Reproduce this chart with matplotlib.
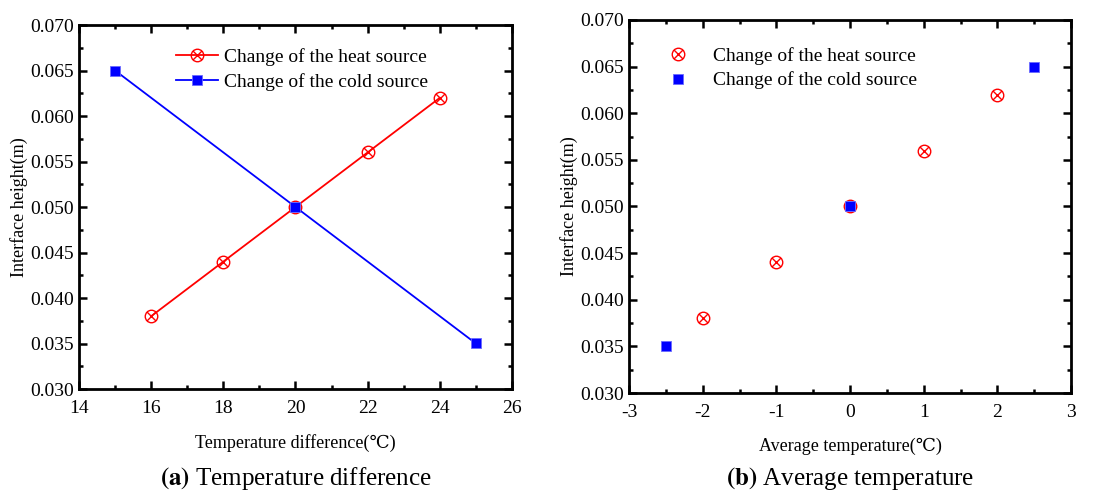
import numpy as np
import matplotlib.pyplot as plt
from matplotlib.path import Path
from matplotlib.ticker import MultipleLocator, FormatStrFormatter

plt.rcParams['font.family'] = ['Liberation Serif', 'DejaVu Serif']
plt.rcParams['mathtext.fontset'] = 'stix'
plt.rcParams['axes.unicode_minus'] = False

# interface heights
heat_y = [0.038, 0.044, 0.050, 0.056, 0.062]

# (a) temperature difference
heat_dt = [16, 18, 20, 22, 24]
cold_dt = [15, 20, 25]
cold_dt_y = [0.065, 0.050, 0.035]

# (b) average temperature
heat_avg = [-2, -1, 0, 1, 2]
cold_avg = [-2.5, 0, 2.5]
cold_avg_y = [0.035, 0.050, 0.065]

# circle with a cross inside
s = np.sqrt(0.5)
circ_x = Path.make_compound_path(
    Path.unit_circle(),
    Path([(-s, -s), (s, s)]),
    Path([(-s, s), (s, -s)]),
)

fig = plt.figure(figsize=(10.99, 4.90), dpi=100)
ax1 = fig.add_axes([79 / 1099, 1 - 389 / 490, 433 / 1099, 364 / 490])
ax2 = fig.add_axes([629 / 1099, 1 - 393 / 490, 442 / 1099, 373 / 490])

heat_style = dict(color='red', marker=circ_x, markersize=9, markerfacecolor='none',
                  markeredgecolor='red', markeredgewidth=1.0)
cold_style = dict(color='blue', marker='s', markersize=7.5, markerfacecolor='blue',
                  markeredgecolor='#6a6aff', markeredgewidth=0.6)

ax1.plot(heat_dt, heat_y, lw=1.3, label='Change of the heat source', **heat_style)
ax1.plot(cold_dt, cold_dt_y, lw=1.3, label='Change of the cold source', **cold_style)

ax2.plot(heat_avg, heat_y, ls='none', label='Change of the heat source', **heat_style)
ax2.plot(cold_avg, cold_avg_y, ls='none', label='Change of the cold source', **cold_style)

ax1.set_xlim(14, 26)
ax1.xaxis.set_major_locator(MultipleLocator(2))
ax1.xaxis.set_minor_locator(MultipleLocator(1))
ax1.set_xlabel('Temperature difference(℃)', fontsize=13, labelpad=12)

ax2.set_xlim(-3, 3)
ax2.xaxis.set_major_locator(MultipleLocator(1))
ax2.xaxis.set_minor_locator(MultipleLocator(0.5))
ax2.set_xlabel('Average temperature(℃)', fontsize=13, labelpad=12)

for ax in (ax1, ax2):
    ax.set_ylim(0.030, 0.070)
    ax.yaxis.set_major_locator(MultipleLocator(0.005))
    ax.yaxis.set_minor_locator(MultipleLocator(0.0025))
    ax.yaxis.set_major_formatter(FormatStrFormatter('%.3f'))
    ax.set_ylabel('Interface height(m)', fontsize=13, labelpad=2)
    ax.tick_params(which='both', direction='in', top=True, right=True, width=1.8,
                   labelsize=14)
    ax.tick_params(which='major', length=6)
    ax.tick_params(which='minor', length=3)
    ax.tick_params(axis='x', pad=8)
    for sp in ax.spines.values():
        sp.set_linewidth(2)

ax1.legend(loc='upper center', bbox_to_anchor=(0.515, 0.985), frameon=False, fontsize=14,
           handlelength=2.2, handletextpad=0.3, labelspacing=0.35)
ax2.legend(loc='upper left', bbox_to_anchor=(0.05, 0.975), frameon=False, fontsize=14,
           handlelength=1.0, handletextpad=1.3, labelspacing=0.35)

fig.text(ax1.get_position().x0 + ax1.get_position().width / 2, 12 / 490,
         r'$\mathbf{(a)}$ Temperature difference', ha='center', va='center', fontsize=18)
fig.text(ax2.get_position().x0 + ax2.get_position().width / 2, 12 / 490,
         r'$\mathbf{(b)}$ Average temperature', ha='center', va='center', fontsize=18)

fig.savefig('out.png', dpi=100)
